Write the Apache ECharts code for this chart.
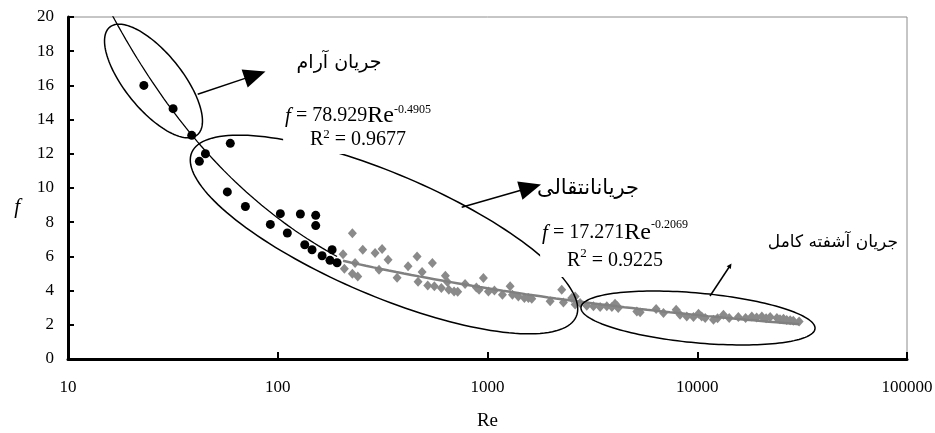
<!DOCTYPE html>
<html><head><meta charset="utf-8">
<script src="https://cdn.jsdelivr.net/npm/echarts@6/dist/echarts.min.js"></script>
<style>html,body{margin:0;padding:0;background:#fff}#c{width:935px;height:433px}</style>
</head><body><div id="c"></div>
<script>
// ---- data ----
const xTickValues = [10, 100, 1000, 10000, 100000];
const yTickValues = [0, 2, 4, 6, 8, 10, 12, 14, 16, 18, 20];

const blackRe = [23.0, 31.7, 38.9, 42.3, 45.2, 59.4, 57.5, 70.1, 92.2, 102.9, 111.1, 128.2, 134.5, 145.7, 151.7, 151.7, 162.7, 177.4, 181.6, 191.8];
const blackF  = [16.0, 14.64, 13.08, 11.56, 12.0, 12.61, 9.77, 8.92, 7.87, 8.5, 7.37, 8.48, 6.68, 6.39, 8.4, 7.8, 6.04, 5.77, 6.39, 5.63];

const grayRe = [204.8, 207.8, 226.9, 226.9, 233.7, 240.7, 254.3, 291.1, 304, 314.4, 335.7, 370.7, 418.1, 461.6, 466.6, 487.8, 519, 546, 558, 602.6, 629.7, 644, 654, 693, 721, 781.7, 885, 912, 956, 1010, 1079, 1178, 1282, 1315, 1403, 1499, 1567, 1626, 1989, 2259, 2301, 2522, 2617, 2617, 2764, 2974, 3199, 3443, 3705, 3917, 4055, 4137, 4200, 5152, 5343, 6368, 6902, 7933, 8279, 8913, 9594, 10140, 10500, 10910, 11950, 12500, 13330, 14200, 15700, 17000, 18200, 19200, 20320, 21300, 22270, 23970, 24800, 25770, 26700, 27730, 28700, 30600];
const grayF  = [6.12, 5.28, 7.35, 4.99, 5.61, 4.83, 6.39, 6.2, 5.22, 6.43, 5.81, 4.75, 5.42, 6.0, 4.52, 5.09, 4.3, 5.61, 4.25, 4.15, 4.87, 4.5, 4.05, 3.95, 3.94, 4.39, 4.18, 4.05, 4.74, 3.95, 4.0, 3.76, 4.25, 3.76, 3.66, 3.57, 3.57, 3.53, 3.37, 4.05, 3.31, 3.57, 3.66, 3.18, 3.27, 3.12, 3.08, 3.04, 3.08, 3.04, 3.23, 3.12, 2.98, 2.78, 2.73, 2.92, 2.69, 2.88, 2.59, 2.49, 2.46, 2.65, 2.49, 2.40, 2.30, 2.38, 2.59, 2.40, 2.46, 2.40, 2.49, 2.42, 2.49, 2.38, 2.46, 2.40, 2.33, 2.35, 2.28, 2.27, 2.24, 2.2];

// fitted trendlines (equations printed on the chart)
const lamFit  = { a: 78.929, b: -0.4905, r2: '0.9677', from: 16 };
const turbFit = { a: 17.271, b: -0.2069, r2: '0.9225' };

const labelLaminar    = 'جریان آرام';
const labelTransition = 'جریانانتقالی';
const labelTurbulent  = 'جریان آشفته کامل';

// ---- helpers ----
function fitCurve(fit, from, to, n) {
  const out = [];
  for (let i = 0; i <= n; i++) {
    const r = from * Math.pow(to / from, i / n);
    out.push([r, fit.a * Math.pow(r, fit.b)]);
  }
  return out;
}
function ellipsePts(cx, cy, a, b, deg) {
  const th = deg * Math.PI / 180, pts = [];
  for (let i = 0; i < 160; i++) {
    const t = i / 160 * 2 * Math.PI;
    pts.push([cx + a * Math.cos(th) * Math.cos(t) - b * Math.sin(th) * Math.sin(t),
              cy + a * Math.sin(th) * Math.cos(t) + b * Math.cos(th) * Math.sin(t)]);
  }
  return pts;
}
function arrow(x1, y1, x2, y2, len, hw, w) {
  const L = Math.hypot(x2 - x1, y2 - y1), dx = (x2 - x1) / L, dy = (y2 - y1) / L;
  const bx = x2 - dx * len, by = y2 - dy * len;
  return [
    { type: 'line', z: 15, shape: { x1: x1, y1: y1, x2: bx + dx * 2, y2: by + dy * 2 }, style: { stroke: '#000', lineWidth: w } },
    { type: 'polygon', z: 15, shape: { points: [[x2, y2], [bx - dy * hw, by + dx * hw], [bx + dy * hw, by - dx * hw]] }, style: { fill: '#000' } }
  ];
}
const serif = '"Liberation Serif", "Times New Roman", serif';
const eqRich = (fs, lh) => ({
  n:  { fontFamily: serif, fontSize: fs, lineHeight: lh, fill: '#000' },
  i:  { fontFamily: serif, fontSize: fs + 1, fontStyle: 'italic', lineHeight: lh, fill: '#000' },
  re: { fontFamily: serif, fontSize: fs + 4, lineHeight: lh, fill: '#000' },
  s:  { fontFamily: serif, fontSize: 12, lineHeight: 14, verticalAlign: 'top', fill: '#000' },
  s2: { fontFamily: serif, fontSize: 13, lineHeight: 14, verticalAlign: 'top', fill: '#000' }
});
function eqText(fit) {
  return '{i|f}{n| = ' + fit.a + '}{re|Re}{s|' + fit.b + '}\n{n|R}{s2|2}{n| = ' + fit.r2 + '}';
}

const blackData = blackRe.map((r, i) => [r, blackF[i]]);
const grayData = grayRe.map((r, i) => [r, grayF[i]]);
const lamLine = fitCurve(lamFit, lamFit.from, Math.max(...blackRe), 60);
const turbLine = fitCurve(turbFit, Math.min(...grayRe), Math.max(...grayRe), 60);

const graphics = [
  { type: 'polygon', z: 10, shape: { points: ellipsePts(153.5, 81, 69.4, 28.5, 51) }, style: { fill: 'none', stroke: '#000', lineWidth: 1.5 } },
  { type: 'polygon', z: 10, shape: { points: ellipsePts(384, 234.5, 209, 61, 23.1) }, style: { fill: 'none', stroke: '#000', lineWidth: 1.5 } },
  { type: 'polygon', z: 10, shape: { points: ellipsePts(698, 318, 117.5, 24.9, 5.2) }, style: { fill: 'none', stroke: '#000', lineWidth: 1.5 } },
  ...arrow(197.7, 94.3, 265.5, 71.5, 22, 9.5, 1.5),
  ...arrow(461.7, 207.3, 541, 184.5, 22, 9.5, 1.5),
  ...arrow(710, 296, 731.5, 263.5, 5, 2.5, 1.5),
  { type: 'text', z: 20, x: 358, y: 102, style: { text: eqText(lamFit), rich: eqRich(20, 24), align: 'center', textAlign: 'center', verticalAlign: 'top', textVerticalAlign: 'top', backgroundColor: '#fff', padding: [2, 2] } },
  { type: 'text', z: 20, x: 615, y: 217, style: { text: eqText(turbFit), rich: eqRich(20, 28), align: 'center', textAlign: 'center', verticalAlign: 'top', textVerticalAlign: 'top', backgroundColor: '#fff', padding: [2, 2] } },
  { type: 'text', z: 20, x: 339, y: 63, style: { text: labelLaminar, font: '19px "DejaVu Sans"', fill: '#000', align: 'center', textAlign: 'center', verticalAlign: 'middle', textVerticalAlign: 'middle' } },
  { type: 'text', z: 20, x: 588, y: 189, style: { text: labelTransition, font: '21px "DejaVu Sans"', fill: '#000', align: 'center', textAlign: 'center', verticalAlign: 'middle', textVerticalAlign: 'middle' } },
  { type: 'text', z: 20, x: 898, y: 243, style: { text: labelTurbulent, font: '17px "DejaVu Sans"', fill: '#000', align: 'right', textAlign: 'right', verticalAlign: 'middle', textVerticalAlign: 'middle' } }
];

const chart = echarts.init(document.getElementById('c'), null, { renderer: 'canvas' });
chart.setOption({
  animation: false,
  backgroundColor: '#fff',
  grid: { left: 68, right: 28, top: 17, bottom: 74, containLabel: false, outerBoundsMode: 'none', show: true, borderColor: '#8c8c8c', borderWidth: 1, backgroundColor: 'transparent' },
  xAxis: {
    type: 'log', logBase: 10, min: xTickValues[0], max: xTickValues[xTickValues.length - 1],
    axisLine: { show: true, onZero: false, lineStyle: { color: '#000', width: 3 } },
    axisTick: { show: true, inside: true, length: 7, lineStyle: { color: '#000', width: 2 } },
    minorTick: { show: false },
    splitLine: { show: false },
    axisLabel: { margin: 20, color: '#000', fontFamily: serif, fontSize: 17, formatter: v => String(Math.round(v)) },
    name: 'Re', nameLocation: 'middle', nameGap: 53,
    nameTextStyle: { color: '#000', fontFamily: serif, fontSize: 19 }
  },
  yAxis: {
    type: 'value', min: yTickValues[0], max: yTickValues[yTickValues.length - 1], interval: 2,
    axisLine: { show: true, onZero: false, lineStyle: { color: '#000', width: 3 } },
    axisTick: { show: true, inside: true, length: 6, lineStyle: { color: '#000', width: 2 } },
    splitLine: { show: false },
    axisLabel: { margin: 14, color: '#000', fontFamily: serif, fontSize: 17 },
    name: 'f', nameLocation: 'middle', nameRotate: 0, nameGap: 48,
    nameTextStyle: { color: '#000', fontFamily: serif, fontSize: 21, fontStyle: 'italic', verticalAlign: 'top', lineHeight: 38 }
  },
  series: [
    { type: 'line', data: lamLine, showSymbol: false, symbol: 'none', clip: true, lineStyle: { color: '#000', width: 1.3 }, z: 3, silent: true },
    { type: 'line', data: turbLine, showSymbol: false, symbol: 'none', clip: true, lineStyle: { color: '#808080', width: 2.5 }, z: 3, silent: true },
    { type: 'scatter', data: grayData, symbol: 'diamond', symbolSize: [9, 10], itemStyle: { color: '#8a8a8a', opacity: 1 }, z: 2 },
    { type: 'scatter', data: blackData, symbol: 'circle', symbolSize: 9, itemStyle: { color: '#000', opacity: 1 }, z: 4 }
  ],
  graphic: graphics
});
</script></body></html>
